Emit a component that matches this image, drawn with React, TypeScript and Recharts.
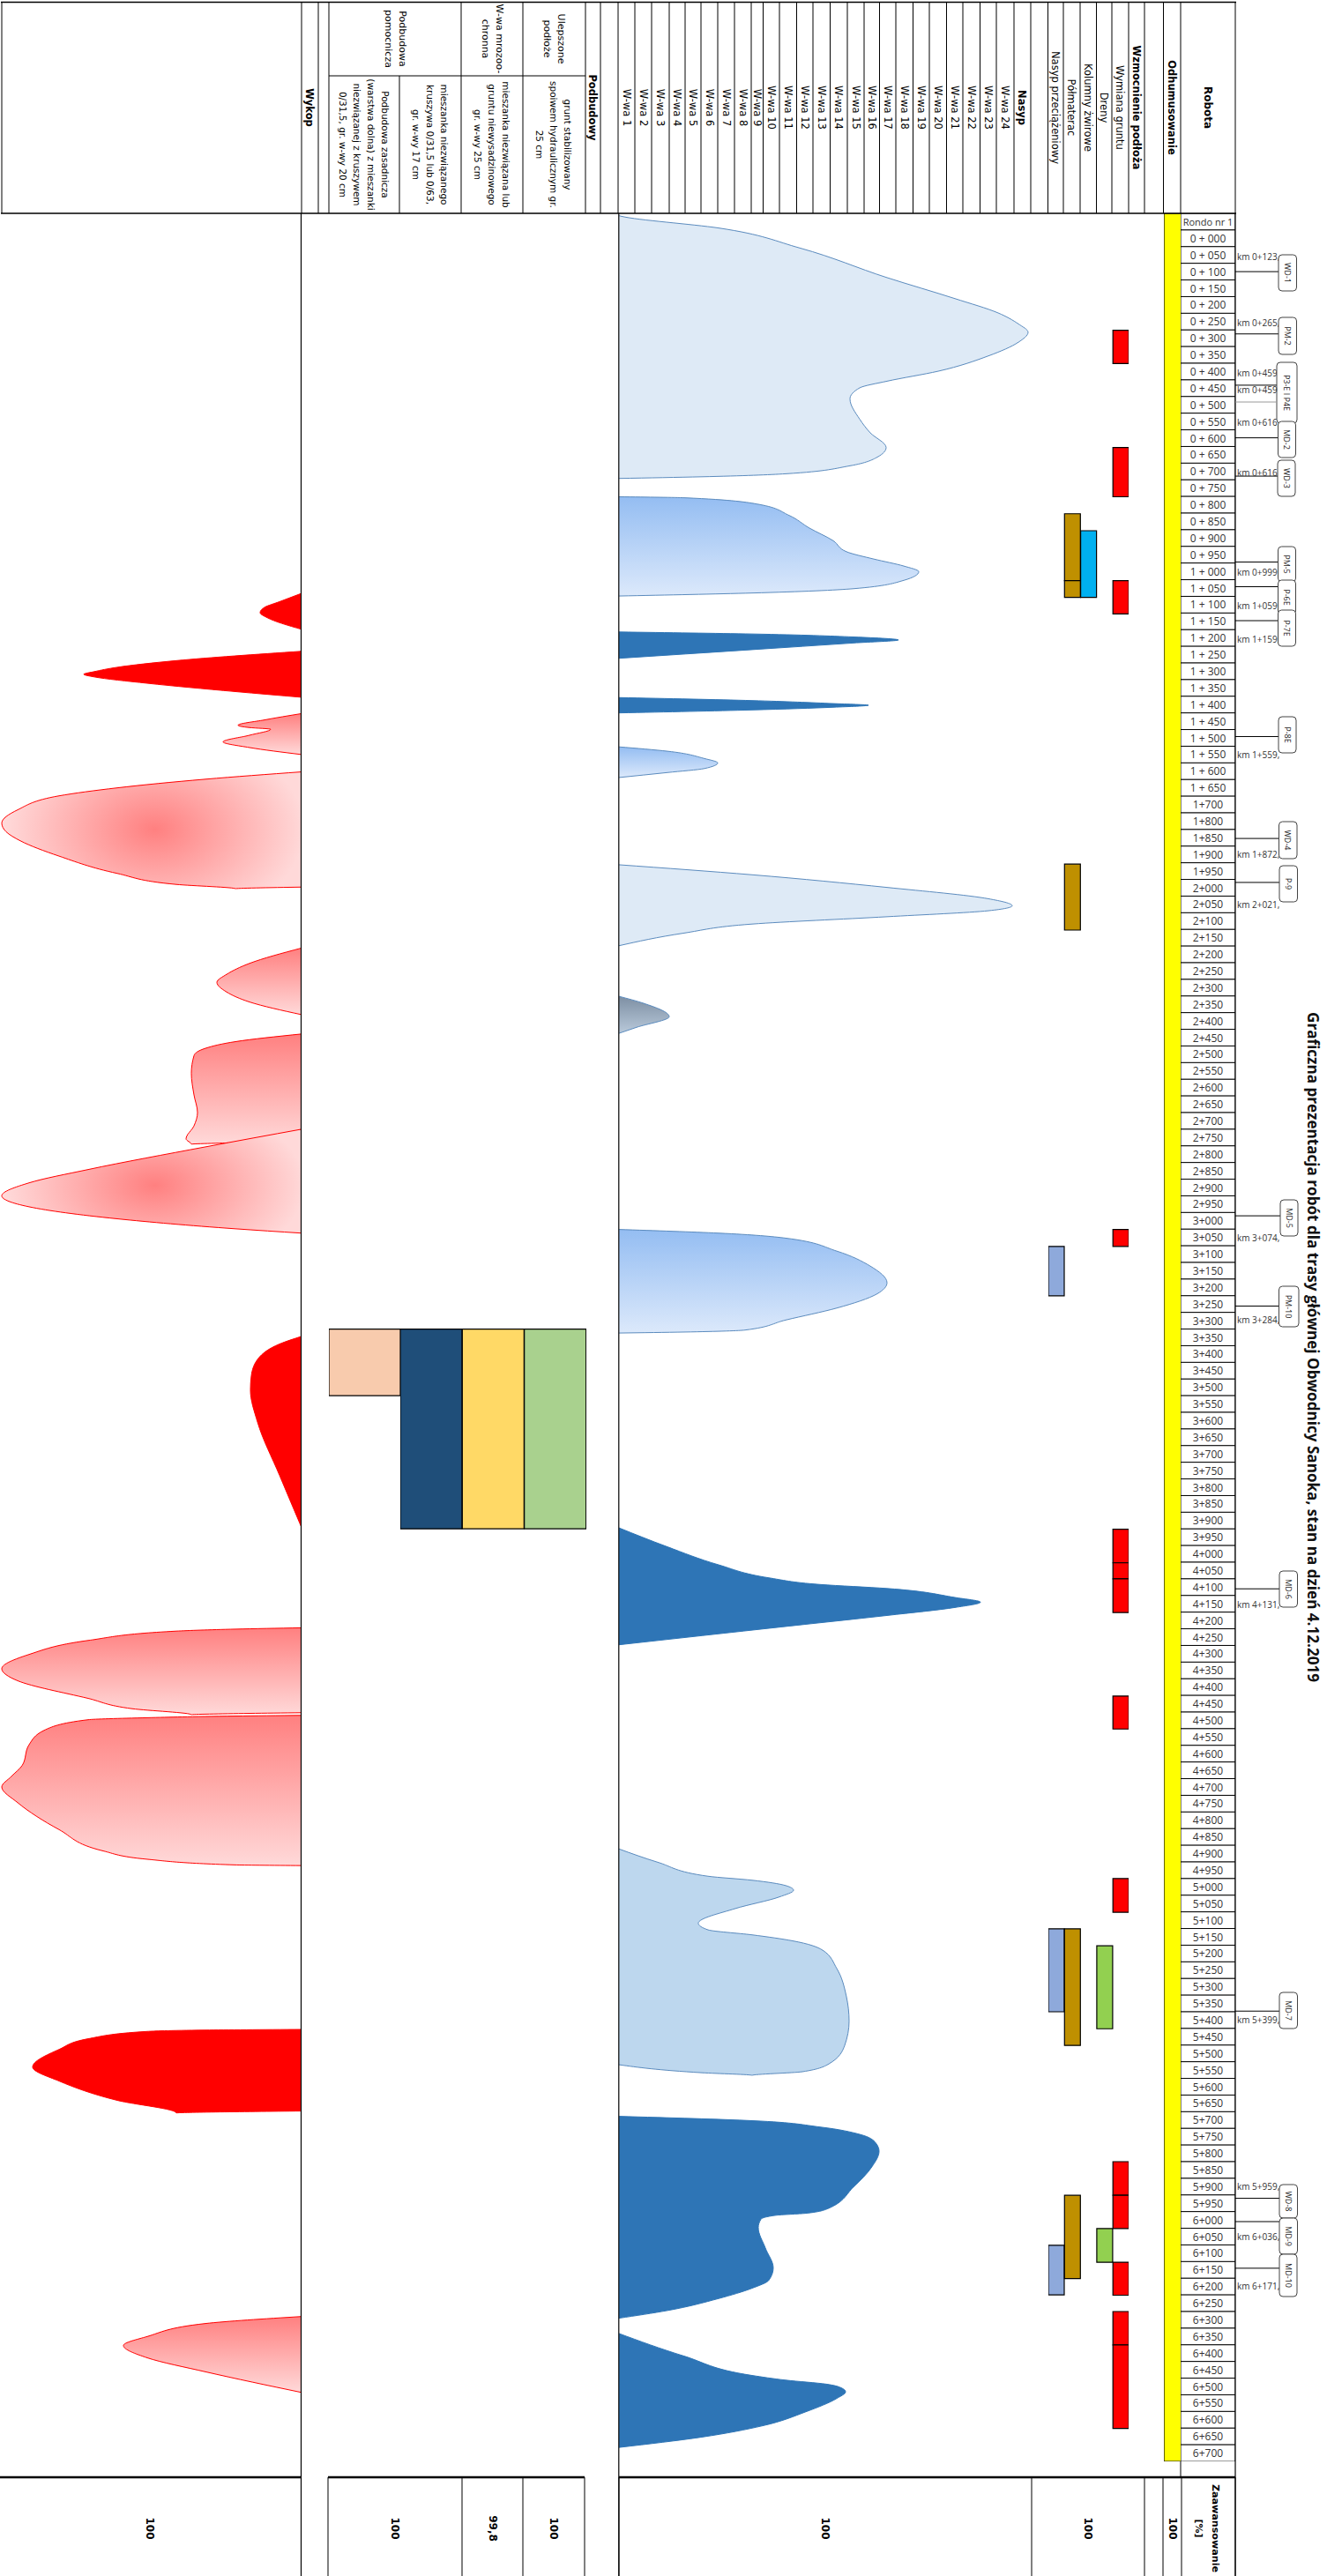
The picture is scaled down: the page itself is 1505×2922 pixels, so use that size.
import React from 'react';
import { ComposedChart, BarChart, Area, Bar, Cell, XAxis, YAxis, LabelList } from 'recharts';

// Position along the route, in metres of the drawn row scale (50 per row, first row = roundabout)
const ROUTE_MAX = 6750;
const WORKS_MAX = 468; // wykonane W-wa / nasyp scale
const CUT_MAX = 342; // wykop scale

const ROW_LABELS = [
  'Rondo nr 1','0 + 000','0 + 050','0 + 100','0 + 150','0 + 200','0 + 250','0 + 300','0 + 350','0 + 400','0 + 450','0 + 500','0 + 550','0 + 600','0 + 650','0 + 700','0 + 750','0 + 800','0 + 850','0 + 900','0 + 950',
  '1 + 000','1 + 050','1 + 100','1 + 150','1 + 200','1 + 250','1 + 300','1 + 350','1 + 400','1 + 450','1 + 500','1 + 550','1 + 600','1 + 650','1+700','1+800','1+850','1+900','1+950',
  '2+000','2+050','2+100','2+150','2+200','2+250','2+300','2+350','2+400','2+450','2+500','2+550','2+600','2+650','2+700','2+750','2+800','2+850','2+900','2+950',
  '3+000','3+050','3+100','3+150','3+200','3+250','3+300','3+350','3+400','3+450','3+500','3+550','3+600','3+650','3+700','3+750','3+800','3+850','3+900','3+950',
  '4+000','4+050','4+100','4+150','4+200','4+250','4+300','4+350','4+400','4+450','4+500','4+550','4+600','4+650','4+700','4+750','4+800','4+850','4+900','4+950',
  '5+000','5+050','5+100','5+150','5+200','5+250','5+300','5+350','5+400','5+450','5+500','5+550','5+600','5+650','5+700','5+750','5+800','5+850','5+900','5+950',
  '6+000','6+050','6+100','6+150','6+200','6+250','6+300','6+350','6+400','6+450','6+500','6+550','6+600','6+650','6+700',
];

// Works profile: [route position, amount]
const FILL_A = [[7,0],[9,3],[44,113],[104,205],[193,304],[256,381],[299,430],[332,453],[357,464],[387,453],[428,419],[474,362],[504,304],[524,273],[557,262],[618,273],[659,285],[703,303],[732,293],[758,262],[782,189],[791,94],[796,0]];
const FILL_B = [[851,0],[854,74],[874,159],[907,193],[945,216],[983,243],[1016,258],[1038,289],[1059,323],[1076,340],[1102,323],[1127,266],[1140,151],[1149,0]];
const FILL_C = [[1257,0],[1263,151],[1272,266],[1281,317],[1290,266],[1310,151],[1336,0]];
const FILL_D = [[1454,0],[1463,151],[1472,243],[1477,283],[1483,243],[1491,151],[1500,0]];
const FILL_E = [[1602,0],[1615,55],[1637,97],[1650,112],[1667,97],[1679,55],[1694,0]];
const FILL_F = [[1956,0],[1986,151],[2024,304],[2058,419],[2079,446],[2094,419],[2112,304],[2134,151],[2161,74],[2199,0]];
const FILL_G = [[2351,0],[2372,28],[2412,57],[2444,20],[2462,0]];
const FILL_H = [[3051,0],[3062,113],[3077,189],[3116,247],[3161,285],[3211,304],[3244,293],[3287,247],[3323,189],[3353,143],[3359,74],[3362,0]];
const FILL_I = [[3947,0],[4004,55],[4058,113],[4097,170],[4117,228],[4129,304],[4156,381],[4170,410],[4186,381],[4210,304],[4243,189],[4298,0]];
const FILL_J = [[4911,0],[4951,44],[4993,101],[5005,151],[5021,189],[5035,198],[5055,182],[5090,132],[5134,90],[5154,101],[5169,151],[5187,197],[5215,231],[5270,247],[5355,258],[5428,261],[5501,256],[5555,239],[5580,208],[5591,151],[5583,94],[5559,0]];
const FILL_K = [[5714,0],[5727,151],[5746,228],[5768,273],[5793,291],[5819,295],[5865,287],[5926,266],[5991,237],[6005,212],[6011,178],[6023,161],[6048,158],[6109,166],[6169,175],[6206,170],[6230,151],[6261,113],[6297,55],[6320,0]];
const FILL_L = [[6366,0],[6434,74],[6492,151],[6506,189],[6518,235],[6529,252],[6541,257],[6561,247],[6601,212],[6643,163],[6677,94],[6708,0]];

// Cut profile: [route position, amount]
const CUT_1 = [[1141,0],[1166,25],[1183,42],[1199,47],[1214,39],[1249,0]];
const CUT_2 = [[1315,0],[1343,142],[1363,209],[1376,235],[1384,247],[1392,235],[1411,175],[1436,75],[1453,0]];
const CUT_3 = [[1502,0],[1521,42],[1537,72],[1544,59],[1549,35],[1567,59],[1587,89],[1604,59],[1625,0]];
const CUT_4 = [[1677,0],[1699,109],[1725,209],[1749,275],[1791,322],[1831,340],[1857,335],[1884,319],[1930,275],[1982,209],[2015,142],[2028,75],[2023,0]];
const CUT_5 = [[2206,0],[2252,59],[2285,85],[2309,96],[2338,85],[2368,59],[2406,0]];
const CUT_6 = [[2464,0],[2487,75],[2507,109],[2529,122],[2582,125],[2647,122],[2700,118],[2740,122],[2779,131],[2795,125],[2790,75],[2750,0]];
const CUT_7 = [[2750,0],[2803,109],[2871,242],[2911,309],[2950,340],[2983,309],[3019,209],[3049,75],[3062,0]];
const CUT_8 = [[3372,0],[3395,25],[3438,49],[3491,57],[3533,58],[3629,50],[3789,25],[3946,0]];
const CUT_9 = [[4247,0],[4251,75],[4257,142],[4285,242],[4327,309],[4370,340],[4406,322],[4459,242],[4490,192],[4508,125],[4504,59],[4502,0]];
const CUT_10 = [[4510,0],[4512,75],[4517,175],[4523,242],[4555,292],[4598,309],[4661,317],[4693,329],[4725,340],[4772,322],[4853,275],[4917,225],[4942,175],[4959,75],[4961,0]];
const CUT_11 = [[5453,0],[5455,109],[5459,175],[5481,242],[5513,275],[5566,305],[5608,275],[5666,209],[5704,142],[5698,0]];
const CUT_12 = [[6315,0],[6336,109],[6375,175],[6402,202],[6439,175],[6481,109],[6543,0]];

// Ground-works ranges per column: [from, to]
const COL_SURCHARGE = [[3102,3250],[5151,5400],[6101,6250]];
const COL_MATTRESS = [[902,1103],[1103,1153],[1954,2152],[5151,5501],[5951,6201]];
const COL_GRAVEL = [[953,1153]];
const COL_DRAINS = [[5202,5451],[6051,6152]];
const COL_REPLACE = [[351,451],[703,851],[1103,1203],[3051,3102],[3951,4052],[4052,4100],[4100,4201],[4452,4551],[5000,5101],[5850,5951],[5951,6051],[6152,6251],[6300,6400],[6400,6651]];
const COL_STRIP = [[0,6750]];
const COL_SUB_25 = [[3350,3950]];
const COL_FROST = [[3350,3950]];
const COL_BASE_17 = [[3350,3950]];
const COL_BASE_20 = [[3350,3550]];

const FILL_COLORS = { light: '#DEEAF6', mid: '#BDD7EE', dark: '#2E75B6' };

const WORKS_SERIES = [
  { pts: FILL_A, fill: FILL_COLORS.light }, { pts: FILL_B, fill: 'url(#blueFade)' }, { pts: FILL_C, fill: FILL_COLORS.dark },
  { pts: FILL_D, fill: FILL_COLORS.dark }, { pts: FILL_E, fill: 'url(#blueFade)' }, { pts: FILL_F, fill: FILL_COLORS.light },
  { pts: FILL_G, fill: 'url(#greyFade)' }, { pts: FILL_H, fill: 'url(#blueFade)' }, { pts: FILL_I, fill: FILL_COLORS.dark },
  { pts: FILL_J, fill: FILL_COLORS.mid }, { pts: FILL_K, fill: FILL_COLORS.dark }, { pts: FILL_L, fill: FILL_COLORS.dark },
];
const CUT_SERIES = [
  { pts: CUT_1, fill: '#FF0000' }, { pts: CUT_2, fill: '#FF0000' }, { pts: CUT_3, fill: 'url(#redFade)' },
  { pts: CUT_4, fill: 'url(#redGlowA)' }, { pts: CUT_5, fill: 'url(#redFade)' }, { pts: CUT_6, fill: 'url(#redFade)' },
  { pts: CUT_7, fill: 'url(#redGlowB)' }, { pts: CUT_8, fill: '#FF0000' }, { pts: CUT_9, fill: 'url(#redFade)' },
  { pts: CUT_10, fill: 'url(#redFade)' }, { pts: CUT_11, fill: '#FF0000' }, { pts: CUT_12, fill: 'url(#redFade)' },
];

// Bridge / culvert objects
const OBJECT_NAMES = ['WD-1','PM-2','P3-E I P4E','MD-2','WD-3','PM-5','P-6E','P-7E','P-8E','WD-4','P-9','MD-5','PM-10','MD-6','MD-7','WD-8','MD-9','MD-10'];
const OBJECT_KM = ['km 0+123,','km 0+265,','km 0+459','km 0+616,','km 0+616,','km 0+999,','km 1+059,','km 1+159,','km 1+559,','km 1+872,','km 2+021,','km 3+074,','km 3+284,','km 4+131,','km 5+399,','km 5+959,','km 6+036,','km 6+171,'];
const OBJECT_AT = [175,362,516,674,789,1047,1121,1223,1571,1877,2009,3010,3281,4130,5398,5960,6030,6170];

const PROGRESS = ['100','100','99,8','100','100','100','100'];

const W_WA = ['W-wa 1','W-wa 2','W-wa 3','W-wa 4','W-wa 5','W-wa 6','W-wa 7','W-wa 8','W-wa 9','W-wa 10','W-wa 11','W-wa 12','W-wa 13','W-wa 14','W-wa 15','W-wa 16','W-wa 17','W-wa 18','W-wa 19','W-wa 20','W-wa 21','W-wa 22','W-wa 23','W-wa 24'];

// ---------- layout (kept apart from data) ----------
const PLOT_TOP = 242;
const PLOT_H = 2550;
const yOf = (m: number) => PLOT_TOP + (m / ROUTE_MAX) * PLOT_H;
const FONT = '"DejaVu Sans", sans-serif';
const NARROW = '"Open Sans", sans-serif';

const HEAD_X = [2,342,361,373,523,593,664,681,701,720,739,759,777,795,814,833,852,865.5,884,903.5,922,941.5,961,980,997.5,1016,1035.5,1054,1073.5,1092,1111.5,1130,1150,1169,1188.5,1206,1225,1243.5,1261,1280,1298,1319.5,1339,1401];
const BOTTOM_X = [341.5,372,524,593,663,702,1170,1298,1319,1340,1401];
const PROGRESS_X = [170,448,559,628,936,1234,1329.5];
const BOX_X = [[1450,1470.5],[1450,1470.5],[1448,1471],[1449.5,1469.5],[1449,1469],[1449.5,1469.5],[1449.5,1469.5],[1449.5,1469.5],[1450,1470],[1450.5,1471],[1451,1471.5],[1452,1472],[1450.5,1473],[1451,1471.5],[1451,1471.5],[1451,1471.5],[1451,1471.5],[1451,1471]];
const BOX_Y = [[289,330],[360,402],[411,480],[478,519],[522,563],[620,660],[658,697],[692,733],[813,854],[932,974],[982,1023],[1361,1402],[1459,1505],[1782,1823],[2260,2301],[2478,2516],[2516,2557],[2557,2605]];
const KM_Y = [291,366,423,479,536,649,687,725,856,969,1026,1404,1497,1820,2291,2480,2537,2593];

function RT({ x, y, children, size = 11.5, bold = false, len, family = FONT, fill = '#000' }: any) {
  return (
    <text x={x} y={y} transform={`rotate(90 ${x} ${y})`} textAnchor="middle" dominantBaseline="central"
      fontFamily={family} fontSize={size} fontWeight={bold ? 700 : 400} fill={fill}
      {...(len ? { textLength: len, lengthAdjust: 'spacingAndGlyphs' } : {})}>{children}</text>
  );
}

function MultiRT({ cx, cy, lines, size = 10.5, lh = 16 }: any) {
  return (
    <g>
      {lines.map((l: string, i: number) => (
        <RT key={l} x={cx + ((lines.length - 1) / 2 - i) * lh} y={cy} size={size}>{l}</RT>
      ))}
    </g>
  );
}

const toPts = (p: number[][]) => p.map(([m, v]) => ({ m, v }));

function ProfilePanel({ left, width, max, reversed, series, stroke, children }: any) {
  return (
    <div style={{ position: 'absolute', left, top: PLOT_TOP, width, height: PLOT_H }}>
      <ComposedChart width={width} height={PLOT_H} data={[]} layout="vertical" margin={{ top: 0, right: 0, bottom: 0, left: 0 }}>
        {children}
        <XAxis hide type="number" domain={[0, max]} reversed={reversed} />
        <YAxis hide type="number" dataKey="m" domain={[0, ROUTE_MAX]} />
        {series.map((s: any, i: number) => (
          <Area key={i} data={toPts(s.pts)} dataKey="v" type="monotone" stroke={stroke(s.fill)}
            strokeWidth={1} fill={s.fill} fillOpacity={1} dot={false} activeDot={false} isAnimationActive={false} />
        ))}
      </ComposedChart>
    </div>
  );
}

function RangeColumns({ left, width, columns }: any) {
  const maxN = Math.max(...columns.map((c: any) => c.ranges.length));
  const rows = columns.map((c: any) => {
    const row: any = { col: c.name };
    let prev = 0;
    for (let i = 0; i < maxN; i++) {
      const r = c.ranges[i];
      row['g' + i] = r ? r[0] - prev : 0;
      row['s' + i] = r ? r[1] - r[0] : 0;
      if (r) prev = r[1];
    }
    return row;
  });
  const idx = Array.from({ length: maxN }, (_, i) => i);
  return (
    <div style={{ position: 'absolute', left, top: PLOT_TOP, width, height: PLOT_H }}>
      <BarChart width={width} height={PLOT_H} data={rows} barCategoryGap={0} margin={{ top: 0, right: 0, bottom: 0, left: 0 }}>
        <XAxis hide type="category" dataKey="col" />
        <YAxis hide type="number" domain={[0, ROUTE_MAX]} reversed />
        {idx.flatMap((i) => [
          <Bar key={'g' + i} dataKey={'g' + i} stackId="a" fill="none" stroke="none" isAnimationActive={false} />,
          <Bar key={'s' + i} dataKey={'s' + i} stackId="a" stroke="#000" strokeWidth={1.2} isAnimationActive={false}>
            {columns.map((c: any) => <Cell key={c.name} fill={c.color} />)}
          </Bar>,
        ])}
      </BarChart>
    </div>
  );
}

const rowLabel = (p: any) => (
  <text x={p.x + p.width / 2} y={p.y + p.height / 2} textAnchor="middle" dominantBaseline="central"
    fill="#333" fontSize={p.value === ROW_LABELS[0] ? 11 : 12} fontFamily={NARROW}>{p.value}</text>
);

function RowTable() {
  const rows = ROW_LABELS.map((label) => ({ label, cell: 1 }));
  return (
    <div style={{ position: 'absolute', left: 1339, top: PLOT_TOP, width: 62, height: PLOT_H }}>
      <BarChart width={62} height={PLOT_H} data={rows} layout="vertical" barCategoryGap={0} margin={{ top: 0, right: 0, bottom: 0, left: 0 }}>
        <XAxis hide type="number" domain={[0, 1]} />
        <YAxis hide type="category" dataKey="label" />
        <Bar dataKey="cell" fill="#fff" stroke="#000" strokeWidth={1} isAnimationActive={false}>
          <LabelList dataKey="label" content={rowLabel} />
        </Bar>
      </BarChart>
    </div>
  );
}

function Overlay() {
  const hair = { stroke: '#000', strokeWidth: 1 };
  return (
    <svg width={1505} height={2922} style={{ position: 'absolute', left: 0, top: 0, pointerEvents: 'none' }}>
      {/* header grid */}
      <line x1={1} y1={2.5} x2={1402} y2={2.5} stroke="#000" strokeWidth={1.5} />
      <line x1={1} y1={242} x2={1402} y2={242} stroke="#000" strokeWidth={1.5} />
      <line x1={373} y1={86} x2={664} y2={86} {...hair} />
      <line x1={453} y1={86} x2={453} y2={242} {...hair} />
      {HEAD_X.map((x) => <line key={x} x1={x} y1={2} x2={x} y2={242} {...hair} />)}
      {/* long verticals */}
      <line x1={341.5} y1={242} x2={341.5} y2={2922} stroke="#000" strokeWidth={1.2} />
      <line x1={701.8} y1={242} x2={701.8} y2={2922} stroke="#000" strokeWidth={1.2} />
      <line x1={1401} y1={242} x2={1401} y2={2922} stroke="#000" strokeWidth={1.2} />
      <line x1={1339} y1={2792} x2={1339} y2={2810} {...hair} />
      {/* bottom band */}
      <line x1={0} y1={2810} x2={341.5} y2={2810} stroke="#000" strokeWidth={2.5} />
      <line x1={372} y1={2810} x2={663} y2={2810} stroke="#000" strokeWidth={2.5} />
      <line x1={702} y1={2810} x2={1401} y2={2810} stroke="#000" strokeWidth={2.5} />
      {BOTTOM_X.map((x) => <line key={x} x1={x} y1={2810} x2={x} y2={2922} {...hair} />)}
      {PROGRESS.map((p, i) => <RT key={i} x={PROGRESS_X[i]} y={2868} size={12} bold>{p}</RT>)}
      <RT x={1378} y={2868} size={11} bold len={100}>Zaawansowanie</RT>
      <RT x={1359} y={2868} size={11} bold>[%]</RT>
      {/* header texts */}
      <RT x={1370} y={122} bold size={12}>Robota</RT>
      <RT x={1329} y={122} bold>Odhumusowanie</RT>
      <RT x={1289} y={122} bold>Wzmocnienie podłoża</RT>
      <RT x={1270} y={122}>Wymiana gruntu</RT>
      <RT x={1252} y={122}>Dreny</RT>
      <RT x={1234} y={122}>Kolumny żwirowe</RT>
      <RT x={1215} y={122}>Półmaterac</RT>
      <RT x={1197} y={122}>Nasyp przeciążeniowy</RT>
      <RT x={1159} y={122} bold>Nasyp</RT>
      {W_WA.map((w, i) => <RT key={w} x={(HEAD_X[8 + i] + HEAD_X[9 + i]) / 2} y={122}>{w}</RT>)}
      <RT x={672} y={122} bold>Podbudowy</RT>
      <RT x={351} y={122} bold>Wykop</RT>
      <MultiRT cx={628} cy={44} lines={['Ulepszone', 'podłoże']} size={11} />
      <MultiRT cx={558} cy={44} lines={['W-wa mrozoo-', 'chronna']} size={11} />
      <MultiRT cx={448} cy={44} lines={['Podbudowa', 'pomocnicza']} size={11} />
      <MultiRT cx={628} cy={164} lines={['grunt stabilizowany', 'spoiwem hydraulicznym gr.', '25 cm']} />
      <MultiRT cx={558} cy={164} lines={['mieszanka niezwiązana lub', 'gruntu niewysadzinowego', 'gr. w-wy 25 cm']} />
      <MultiRT cx={488} cy={164} lines={['mieszanka niezwiązanego', 'kruszywa 0/31,5 lub 0/63,', 'gr. w-wy 17 cm']} />
      <MultiRT cx={413} cy={164} lines={['Podbudowa zasadnicza', '(warstwa dolna) z mieszanki', 'niezwiązanej z kruszywem', '0/31,5, gr. w-wy 20 cm']} />
      {/* objects */}
      {OBJECT_NAMES.map((name, i) => (
        <g key={name}>
          <line x1={1401} y1={yOf(OBJECT_AT[i])} x2={BOX_X[i][0]} y2={yOf(OBJECT_AT[i])} stroke="#000" strokeWidth={1} />
          <text x={1403} y={KM_Y[i]} dominantBaseline="central" fontFamily={NARROW} fontSize={10} fill="#333">{OBJECT_KM[i]}</text>
          <rect x={BOX_X[i][0]} y={BOX_Y[i][0]} width={BOX_X[i][1] - BOX_X[i][0]} height={BOX_Y[i][1] - BOX_Y[i][0]} rx={4} fill="#fff" stroke="#444" strokeWidth={1} />
          <RT x={(BOX_X[i][0] + BOX_X[i][1]) / 2} y={(BOX_Y[i][0] + BOX_Y[i][1]) / 2} size={9} family={NARROW} fill="#222">{name}</RT>
        </g>
      ))}
      <line x1={1401} y1={456} x2={1448} y2={456} stroke="#999" strokeWidth={1} />
      <text x={1403} y={442} dominantBaseline="central" fontFamily={NARROW} fontSize={10} fill="#333">km 0+459</text>
      <RT x={1490} y={1528} size={18} bold len={760} family={NARROW} fill="#111">
        Graficzna prezentacja robót dla trasy głównej Obwodnicy Sanoka, stan na dzień 4.12.2019
      </RT>
    </svg>
  );
}

export default function App() {
  return (
    <div style={{ position: 'absolute', left: 0, top: 0, width: 1505, height: 2922, background: '#fff' }}>
      <ProfilePanel left={0} width={342} max={CUT_MAX} reversed series={CUT_SERIES} stroke={() => '#FF0000'}>
        <defs>
          <linearGradient id="redFade" x1="0" y1="0" x2="0" y2="1">
            <stop offset="0" stopColor="#FF8080" />
            <stop offset="1" stopColor="#FFD9D9" />
          </linearGradient>
          <radialGradient id="redGlowA" cx="0.51" cy="0.49" r="1" gradientTransform="translate(0.51 0.49) scale(0.5 0.85) translate(-0.51 -0.49)">
            <stop offset="0" stopColor="#FF8080" />
            <stop offset="1" stopColor="#FFD9D9" />
          </radialGradient>
          <radialGradient id="redGlowB" cx="0.51" cy="0.54" r="1" gradientTransform="translate(0.51 0.54) scale(0.5 0.85) translate(-0.51 -0.54)">
            <stop offset="0" stopColor="#FF8080" />
            <stop offset="1" stopColor="#FFD9D9" />
          </radialGradient>
        </defs>
      </ProfilePanel>
      <ProfilePanel left={702} width={468} max={WORKS_MAX} series={WORKS_SERIES}
        stroke={(f: string) => (f === FILL_COLORS.dark ? FILL_COLORS.dark : '#5B8BBE')}>
        <defs>
          <linearGradient id="blueFade" x1="0" y1="0" x2="0" y2="1">
            <stop offset="0" stopColor="#94BDF2" />
            <stop offset="1" stopColor="#DCE9FB" />
          </linearGradient>
          <linearGradient id="greyFade" x1="0" y1="0" x2="0" y2="1">
            <stop offset="0" stopColor="#7D8FA3" />
            <stop offset="1" stopColor="#B9C9DA" />
          </linearGradient>
        </defs>
      </ProfilePanel>
      <RangeColumns left={373} width={80.5} columns={[{ name: 'Podbudowa zasadnicza', color: '#F8CBAD', ranges: COL_BASE_20 }]} />
      <RangeColumns left={453.5} width={211} columns={[
        { name: 'Podbudowa pomocnicza', color: '#1F4E79', ranges: COL_BASE_17 },
        { name: 'W-wa mrozoochronna', color: '#FFD966', ranges: COL_FROST },
        { name: 'Ulepszone podłoże', color: '#A9D18E', ranges: COL_SUB_25 },
      ]} />
      <RangeColumns left={1188.5} width={91.5} columns={[
        { name: 'Nasyp przeciążeniowy', color: '#8EA9DB', ranges: COL_SURCHARGE },
        { name: 'Półmaterac', color: '#BF9000', ranges: COL_MATTRESS },
        { name: 'Kolumny żwirowe', color: '#00B0F0', ranges: COL_GRAVEL },
        { name: 'Dreny', color: '#92D050', ranges: COL_DRAINS },
        { name: 'Wymiana gruntu', color: '#FF0000', ranges: COL_REPLACE },
      ]} />
      <RangeColumns left={1319.5} width={20} columns={[{ name: 'Odhumusowanie', color: '#FFFF00', ranges: COL_STRIP }]} />
      <RowTable />
      <Overlay />
    </div>
  );
}
